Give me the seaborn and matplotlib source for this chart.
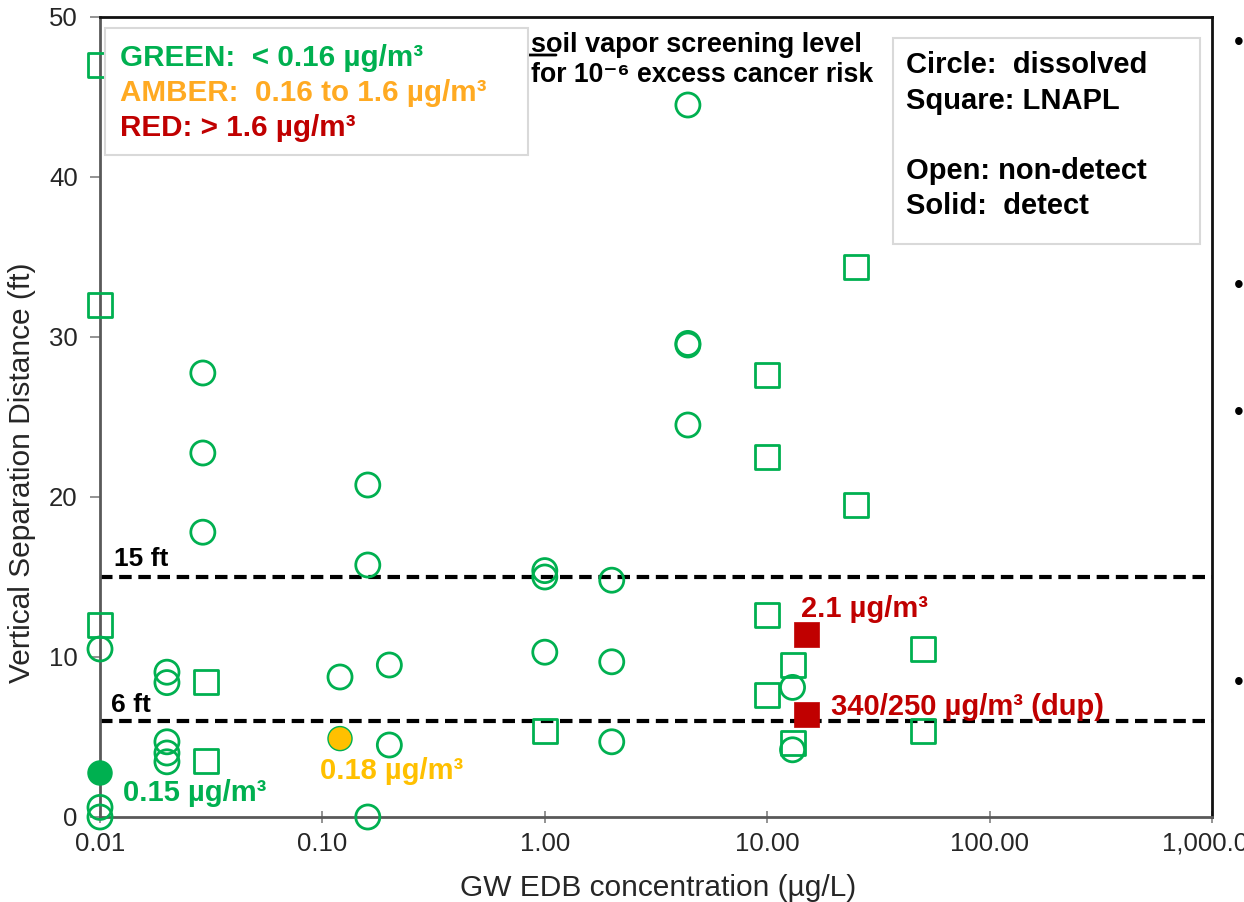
import numpy as np
import pandas as pd
import matplotlib
matplotlib.use("Agg")
import matplotlib.pyplot as plt
from matplotlib.patches import Rectangle
from matplotlib.ticker import FixedLocator, LogLocator, NullFormatter
import seaborn as sns

# ---------------- data ----------------
# dissolved plume, non-detect (open circles)
diss_nd_x = [0.01, 0.01, 0.01, 0.02, 0.02, 0.02, 0.02, 0.02, 0.029, 0.029, 0.029,
             0.12, 0.16, 0.16, 0.16, 0.2, 0.2, 1.0, 1.0, 1.0, 2.0, 2.0, 2.0,
             4.4, 4.4, 4.4, 4.4, 13.0, 13.0]
diss_nd_y = [10.5, 0.6, 0.0, 9.05, 8.4, 4.7, 4.0, 3.45, 27.75, 22.75, 17.8,
             8.75, 20.75, 15.75, 0.0, 9.5, 4.5, 15.4, 15.0, 10.3, 14.8, 9.7, 4.7,
             44.5, 29.6, 29.5, 24.5, 8.1, 4.2]
# dissolved plume, detect (solid circles)
diss_d_x = [0.01, 0.12]
diss_d_y = [2.75, 4.9]
diss_d_level = ["GREEN", "AMBER"]
# LNAPL, non-detect (open squares)
lnapl_nd_x = [0.01, 0.01, 0.01, 0.03, 0.03, 1.0, 10.0, 10.0, 10.0, 10.0, 13.0, 13.0,
              25.0, 25.0, 50.0, 50.0]
lnapl_nd_y = [47.0, 32.0, 12.0, 8.45, 3.5, 5.4, 27.6, 22.5, 12.6, 7.6, 9.5, 4.6,
              34.4, 19.5, 10.5, 5.4]
# LNAPL, detect (solid squares)
lnapl_d_x = [15.0, 15.0]
lnapl_d_y = [11.4, 6.4]
lnapl_d_level = ["RED", "RED"]

ref_lines = [15, 6]
ref_labels = ["15 ft", "6 ft"]
xtick_vals = [0.01, 0.1, 1, 10, 100, 1000]
xtick_labels = ["0.01", "0.10", "1.00", "10.00", "100.00", "1,000.00"]
ytick_vals = [0, 10, 20, 30, 40, 50]

GREEN = "#00B050"
AMBER = "#FFC000"
AMBER_TXT = "#FFAA22"
RED = "#C00000"
palette = {"GREEN": GREEN, "AMBER": AMBER, "RED": RED}

# ---------------- style ----------------
sns.set_theme(style="white")
FAM = ["Liberation Sans", "DejaVu Sans"]
plt.rcParams["font.family"] = FAM

W, H = 1244, 902
fig = plt.figure(figsize=(W / 100, H / 100), dpi=100)
ax = fig.add_axes([100 / W, 1 - 817 / H, (1212 - 100) / W, (817 - 17) / H])


def fx(px):
    return px / W


def fy(py):
    return 1 - py / H


def dx(px):
    return 10 ** ((px - 100) / 222.0 - 2)


def dy(py):
    return (817 - py) / 16.0


ax.set_xscale("log")
ax.set_xlim(0.01, 1000)
ax.set_ylim(0, 50)

for v in ref_lines:
    ax.axhline(v, color="black", lw=3.0, ls=(0, (3, 1.6)), zorder=1)

MS = 300
LW = 2.0
df_cnd = pd.DataFrame({"conc": diss_nd_x, "sep": diss_nd_y})
df_snd = pd.DataFrame({"conc": lnapl_nd_x, "sep": lnapl_nd_y})
df_cd = pd.DataFrame({"conc": diss_d_x, "sep": diss_d_y, "level": diss_d_level})
df_sd = pd.DataFrame({"conc": lnapl_d_x, "sep": lnapl_d_y, "level": lnapl_d_level})

sns.scatterplot(data=df_cnd, x="conc", y="sep", marker="o", s=MS, color=GREEN,
                facecolor="none", edgecolor=GREEN, linewidth=LW, clip_on=False,
                zorder=3, ax=ax, legend=False)
sns.scatterplot(data=df_snd, x="conc", y="sep", marker="s", s=MS, color=GREEN,
                facecolor="none", edgecolor=GREEN, linewidth=LW, clip_on=False,
                zorder=3, ax=ax, legend=False)
sns.scatterplot(data=df_cd, x="conc", y="sep", hue="level", palette=palette,
                marker="o", s=MS, edgecolor=GREEN, linewidth=1.0, clip_on=False,
                zorder=4, ax=ax, legend=False)
sns.scatterplot(data=df_sd, x="conc", y="sep", hue="level", palette=palette,
                marker="s", s=MS + 30, edgecolor=RED, linewidth=0.5, clip_on=False,
                zorder=4, ax=ax, legend=False)

# ---------------- axes ----------------
ax.xaxis.set_major_locator(FixedLocator(xtick_vals))
ax.set_xticklabels(xtick_labels)
ax.xaxis.set_minor_locator(LogLocator(base=10, subs=np.arange(2, 10), numticks=20))
ax.xaxis.set_minor_formatter(NullFormatter())
ax.set_yticks(ytick_vals)
ax.tick_params(axis="x", which="major", direction="inout", length=9, width=1.2,
               color="#808080", labelsize=18.5, labelcolor="#262626", pad=6)
ax.tick_params(axis="x", which="minor", direction="in", length=4.5, width=1.0,
               color="#808080")
ax.tick_params(axis="y", which="major", direction="out", length=7, width=1.2,
               color="#808080", labelsize=18.5, labelcolor="#262626", pad=9)
ax.tick_params(left=True, bottom=True)

for s in ["left", "bottom"]:
    ax.spines[s].set_color("#595959")
    ax.spines[s].set_linewidth(2.0)
for s in ["top", "right"]:
    ax.spines[s].set_color("#111111")
    ax.spines[s].set_linewidth(2.0)

ax.set_xlabel("GW EDB concentration (µg/L)", fontsize=21.5, color="#262626")
ax.set_ylabel("Vertical Separation Distance (ft)", fontsize=21.5, color="#262626")
ax.xaxis.set_label_coords(0.502, -0.089)
ax.xaxis.label.set_va("center")
ax.yaxis.set_label_coords(-0.07, 0.43)
ax.yaxis.label.set_va("center")

# reference line labels
ax.text(dx(114), dy(557), ref_labels[0], fontsize=19, fontweight="bold",
        color="black", ha="left", va="center_baseline", zorder=5)
ax.text(dx(111), dy(703), ref_labels[1], fontsize=19, fontweight="bold",
        color="black", ha="left", va="center_baseline", zorder=5)

# point labels
ax.text(dx(800), dy(606), "2.1 µg/m³", fontsize=21, fontweight="bold", color=RED,
        ha="left", va="center_baseline", zorder=5)
ax.text(dx(830), dy(704), "340/250 µg/m³ (dup)", fontsize=21, fontweight="bold",
        color=RED, ha="left", va="center_baseline", zorder=5)
ax.text(dx(123), dy(790), "0.15 µg/m³", fontsize=21, fontweight="bold", color=GREEN,
        ha="left", va="center_baseline", zorder=5)
ax.text(dx(320), dy(768), "0.18 µg/m³", fontsize=21, fontweight="bold", color=AMBER,
        ha="left", va="center_baseline", zorder=5)

# ---------------- colour legend box ----------------
box1 = Rectangle((fx(105), fy(155)), fx(528) - fx(105), fy(28) - fy(155),
                 transform=fig.transFigure, facecolor="white", edgecolor="#D9D9D9",
                 lw=1.5, zorder=10)
fig.add_artist(box1)
for txt, col, yy in [("GREEN:  < 0.16 µg/m³", GREEN, 55),
                     ("AMBER:  0.16 to 1.6 µg/m³", AMBER_TXT, 90),
                     ("RED: > 1.6 µg/m³", RED, 125)]:
    fig.text(fx(120), fy(yy), txt, fontsize=21.3, fontweight="bold", color=col,
             ha="left", va="center_baseline", zorder=11)

# annotation + arrow
fig.text(fx(531), fy(42), "soil vapor screening level", fontsize=19.5,
         fontweight="bold", color="black", ha="left", va="center_baseline", zorder=11)
fig.text(fx(531), fy(72), "for 10⁻⁶ excess cancer risk", fontsize=19.2,
         fontweight="bold", color="black", ha="left", va="center_baseline", zorder=11,
         family=FAM)
arr = ax.annotate("", xy=(fx(437), fy(55)), xycoords="figure fraction",
                  xytext=(fx(556), fy(55)), textcoords="figure fraction",
                  arrowprops=dict(arrowstyle="-|>,head_length=0.8,head_width=0.4",
                                  color="black", lw=2, mutation_scale=22,
                                  shrinkA=0, shrinkB=0), zorder=12)
arr.set_zorder(12)

# ---------------- marker legend box ----------------
box2 = Rectangle((fx(893), fy(244)), fx(1200) - fx(893), fy(38) - fy(244),
                 transform=fig.transFigure, facecolor="white", edgecolor="#D9D9D9",
                 lw=1.5, zorder=10)
fig.add_artist(box2)
for txt, yy in [("Circle:  dissolved", 62), ("Square: LNAPL", 98),
                ("Open: non-detect", 168), ("Solid:  detect", 203)]:
    fig.text(fx(906), fy(yy), txt, fontsize=21, fontweight="bold", color="black",
             ha="left", va="center_baseline", zorder=11)

# bullets from the slide edge
for yy in [40, 283, 410, 680]:
    fig.text(fx(1234), fy(yy), "•", fontsize=20, color="black", ha="left",
             va="center_baseline")

fig.savefig("out.png", dpi=100)
